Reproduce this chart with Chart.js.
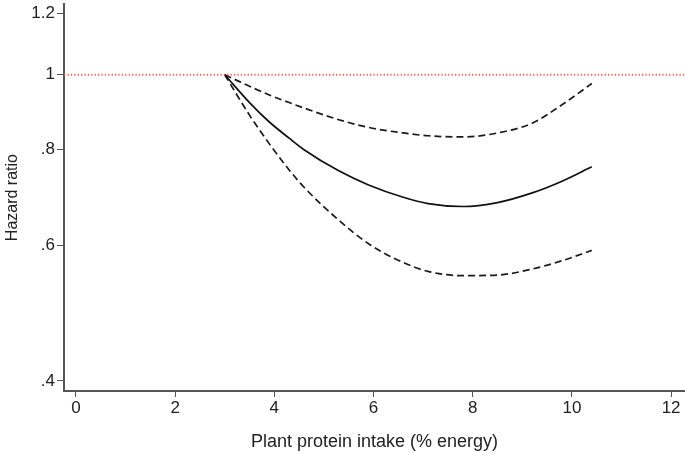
<!DOCTYPE html>
<html>
<head>
<meta charset="utf-8">
<script src="https://cdn.jsdelivr.net/npm/chart.js@4"></script>
<style>
html,body{margin:0;padding:0;background:#fff;overflow:hidden;}
#wrap{width:685px;height:453px;position:relative;overflow:hidden;}
#c{position:absolute;left:0;top:-8px;}
</style>
</head>
<body>
<div id="wrap"><canvas id="c" width="685" height="461" style="width:685px;height:461px"></canvas></div>
<script>
// Data
const intake = [3.0, 3.5, 3.9, 4.3, 4.6, 5.3, 5.9, 6.6, 7.1, 7.8, 8.5, 9.2, 9.8, 10.4];
const hrEstimate = [1.000, 0.920, 0.868, 0.827, 0.799, 0.750, 0.719, 0.693, 0.680, 0.674, 0.682, 0.702, 0.727, 0.759];
const hrUpper = [1.000, 0.966, 0.941, 0.920, 0.905, 0.874, 0.854, 0.840, 0.833, 0.830, 0.840, 0.865, 0.914, 0.974];
const hrLower = [1.000, 0.886, 0.813, 0.752, 0.714, 0.647, 0.603, 0.570, 0.555, 0.548, 0.549, 0.559, 0.573, 0.591];
const refX = [-0.24, 12.28];
const refY = [1, 1];
const xTicks = [0, 2, 4, 6, 8, 10, 12];
const yTicks = [0.4, 0.6, 0.8, 1, 1.2];
const yTickLabels = ['.4', '.6', '.8', '1', '1.2'];

const pts = (xs, ys) => xs.map((x, i) => ({x: x, y: ys[i]}));
const axisColor = '#555555';
const fam = "'Liberation Sans', Arial, sans-serif";

new Chart(document.getElementById('c'), {
  type: 'line',
  data: {
    datasets: [
      {label: 'ref', data: pts(refX, refY), borderColor: 'rgba(255,70,70,0.85)', borderWidth: 2, borderDash: [1.3, 2.1], pointRadius: 0, tension: 0},
      {label: 'upper', data: pts(intake, hrUpper), borderColor: '#1a1a1a', borderWidth: 1.7, borderDash: [7, 4], pointRadius: 0, cubicInterpolationMode: 'monotone'},
      {label: 'hr', data: pts(intake, hrEstimate), borderColor: '#111111', borderWidth: 1.7, pointRadius: 0, cubicInterpolationMode: 'monotone'},
      {label: 'lower', data: pts(intake, hrLower), borderColor: '#1a1a1a', borderWidth: 1.7, borderDash: [7, 4], pointRadius: 0, cubicInterpolationMode: 'monotone'}
    ]
  },
  options: {
    responsive: false,
    animation: false,
    devicePixelRatio: 1,
    layout: {padding: {top: 0, right: 0, left: 0, bottom: 0}},
    plugins: {legend: {display: false}, tooltip: {enabled: false}},
    scales: {
      x: {
        type: 'linear',
        min: refX[0], max: refX[1],
        afterBuildTicks: s => { s.ticks = xTicks.map(v => ({value: v})); },
        afterFit: s => { s.height = 62; },
        grid: {display: true, drawOnChartArea: false, drawTicks: true, tickLength: 6, color: axisColor, lineWidth: 1},
        border: {display: true, color: axisColor, width: 2},
        ticks: {color: '#222', font: {family: fam, size: 17}, padding: 1, maxRotation: 0, autoSkip: false},
        title: {display: true, text: 'Plant protein intake (% energy)', color: '#222', font: {family: fam, size: 18}, padding: {top: 8, bottom: 0}}
      },
      y: {
        type: 'logarithmic',
        min: 0.388, max: 1.235,
        afterBuildTicks: s => { s.ticks = yTicks.map(v => ({value: v})); },
        afterFit: s => { s.width = 64; },
        grid: {display: true, drawOnChartArea: false, drawTicks: true, tickLength: 7, color: axisColor, lineWidth: 1},
        border: {display: true, color: axisColor, width: 2},
        ticks: {color: '#222', font: {family: fam, size: 17}, padding: 2, autoSkip: false,
          callback: (v) => { const i = yTicks.findIndex(t => Math.abs(t - v) < 1e-6); return i >= 0 ? yTickLabels[i] : ''; }},
        title: {display: true, text: 'Hazard ratio', color: '#222', font: {family: fam, size: 16}, padding: {top: 3, bottom: 2}}
      }
    }
  }
});
</script>
</body>
</html>
